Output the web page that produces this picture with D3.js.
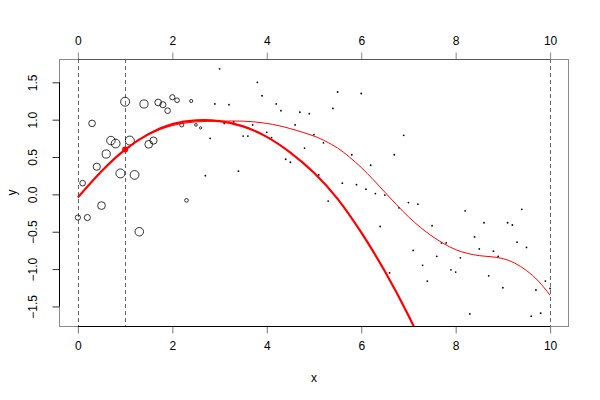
<!DOCTYPE html>
<html><head><meta charset="utf-8">
<script src="https://cdn.jsdelivr.net/npm/d3@7"></script>
<style>body{margin:0;background:#fff}svg{display:block;font-family:"Liberation Sans",Arial,sans-serif}</style>
</head><body><svg id="c" width="600" height="400"></svg>
<script>
const xVals = [0,0.1,0.2,0.3,0.4,0.5,0.6,0.7,0.8,0.9,1,1.1,1.2,1.3,1.4,1.5,1.6,1.7,1.8,1.9,2,2.1,2.2,2.3,2.4,2.5,2.6,2.7,2.8,2.9,3,3.1,3.2,3.3,3.4,3.5,3.6,3.7,3.8,3.9,4,4.1,4.2,4.3,4.4,4.5,4.6,4.7,4.8,4.9,5,5.1,5.2,5.3,5.4,5.5,5.6,5.7,5.8,5.9,6,6.1,6.2,6.3,6.4,6.5,6.6,6.7,6.8,6.9,7,7.1,7.2,7.3,7.4,7.5,7.6,7.7,7.8,7.9,8,8.1,8.2,8.3,8.4,8.5,8.6,8.7,8.8,8.9,9,9.1,9.2,9.3,9.4,9.5,9.6,9.7,9.8,9.9,10];
const yVals = [-0.31,0.15,-0.31,0.95,0.37,-0.15,0.54,0.72,0.68,0.28,1.24,0.72,0.26,-0.50,1.21,0.67,0.72,1.23,1.20,1.12,1.30,1.26,0.93,-0.08,1.25,0.93,0.89,0.25,0.75,1.21,1.68,0.95,1.20,0.97,0.31,0.78,0.78,0.93,1.50,1.32,0.83,0.76,1.21,1.12,0.47,0.43,0.93,1.10,0.62,1.08,0.80,0.26,0.69,-0.09,1.15,1.37,0.15,-0.23,0.53,0.13,1.35,0.07,0.39,0.01,-0.43,-0.01,-1.05,0.53,-0.18,0.79,-0.11,-0.75,-0.13,-0.95,-1.16,-0.42,-0.83,-0.65,-0.65,-1.01,-1.04,-0.85,-0.22,-1.60,-0.57,-0.73,-0.38,-1.09,-0.76,-0.83,-1.25,-0.38,-0.41,-0.64,-0.20,-0.71,-1.63,-1.28,-1.59,-1.16,-1.26];
const weights = [0.58,0.63,0.68,0.74,0.80,0.86,0.91,0.95,0.98,1.0,1.0,1.0,0.98,0.95,0.91,0.86,0.80,0.74,0.68,0.63,0.58,0.52,0.46,0.41,0.35,0.30,0.26,0.22,0.18,0.14];
// local quadratic fit centred at x = 1
const localX = [0,0.5,1,1.5,2,2.5,3,3.5,4,4.5,5,5.5,6,6.5,7,7.25];
const localY = [-0.04,0.31,0.60,0.81,0.94,0.99,0.98,0.91,0.77,0.56,0.29,-0.06,-0.51,-1.03,-1.62,-1.96];
const fitPoint = [1, 0.60];
// global smooth
const smoothX = [0,0.5,1,1.5,2,2.5,3,3.5,4,4.5,5,5.25,5.5,5.75,6,6.25,6.5,6.75,7,7.25,7.5,7.75,8,8.25,8.5,8.75,9,9.25,9.5,9.75,10];
const smoothY = [-0.05,0.31,0.59,0.80,0.92,0.97,0.98,0.98,0.95,0.88,0.78,0.71,0.62,0.50,0.36,0.20,0.03,-0.14,-0.30,-0.44,-0.56,-0.66,-0.74,-0.79,-0.82,-0.835,-0.86,-0.92,-1.02,-1.16,-1.35];
const vLines = [0, 1, 10];
const xTicks = [0,2,4,6,8,10];
const yTicks = [-1.5,-1,-0.5,0,0.5,1,1.5];

const svg = d3.select("#c");
const L=59,R=569,T=59,B=326;
const x = d3.scaleLinear().domain([-0.4,10.4]).range([L,R]);
const y = d3.scaleLinear().domain([-1.762,1.812]).range([B,T]);
const rs = d3.scaleLinear().domain([0,1]).range([0,4.5]);

svg.append("defs").append("clipPath").attr("id","clip").append("rect")
  .attr("x",L).attr("y",T).attr("width",R-L).attr("height",B-T);

// box
svg.append("rect").attr("x",L+0.5).attr("y",T+0.5).attr("width",R-L-1).attr("height",B-T)
  .attr("fill","none").attr("stroke","#8a8a8a");

// dashed vertical lines
svg.append("g").selectAll("line").data(vLines).join("line")
  .attr("x1",d=>Math.round(x(d))+0.5).attr("x2",d=>Math.round(x(d))+0.5)
  .attr("y1",T).attr("y2",B).attr("stroke","#666").attr("stroke-dasharray","4,3");

function styleAxis(g, tickCol){
  g.select(".domain").remove();
  g.selectAll(".tick line").attr("stroke",tickCol);
  g.selectAll(".tick text").attr("font-size",12).attr("fill","#000");
}
// bottom axis
const gb = svg.append("g").attr("transform",`translate(0,${B+0.5})`)
  .call(d3.axisBottom(x).tickValues(xTicks).tickSize(7).tickPadding(8).tickFormat(d3.format("d")));
styleAxis(gb,"#777");
gb.append("line").attr("x1",x(0)).attr("x2",x(10)).attr("stroke","#000");
// top axis
const gt = svg.append("g").attr("transform",`translate(0,${T+0.5})`)
  .call(d3.axisTop(x).tickValues(xTicks).tickSize(7).tickPadding(8).tickFormat(d3.format("d")));
styleAxis(gt,"#888");
gt.append("line").attr("x1",x(0)).attr("x2",x(10)).attr("stroke","#555").attr("stroke-width",1.2);
// left axis
const gl = svg.append("g").attr("transform",`translate(${L+0.5},0)`)
  .call(d3.axisLeft(y).tickValues(yTicks).tickSize(7).tickFormat(d3.format(".1f")));
gl.select(".domain").remove();
gl.selectAll(".tick line").attr("stroke","#333");
gl.selectAll(".tick text").attr("font-size",12).attr("fill","#000")
  .attr("text-anchor","middle").attr("x",0).attr("dy",0)
  .attr("transform","translate(-27,0) rotate(-90)").attr("dominant-baseline","central");
gl.append("line").attr("y1",y(-1.5)).attr("y2",y(1.5)).attr("stroke","#000");

// axis titles
svg.append("text").attr("x",(L+R)/2).attr("y",382).attr("text-anchor","middle").attr("font-size",12).text("x");
svg.append("text").attr("transform",`translate(12,${(T+B)/2}) rotate(-90)`).attr("text-anchor","middle")
  .attr("dominant-baseline","central").attr("font-size",12).text("y");

// points
const pts = xVals.map((xv,i)=>({x:xv,y:yVals[i],w:weights[i]||0}));
const gp = svg.append("g");
gp.selectAll("circle").data(pts).join("circle")
  .attr("cx",d=>x(d.x)).attr("cy",d=>y(d.y))
  .attr("r",d=>rs(d.w)<1.1?0.9:rs(d.w))
  .attr("fill",d=>rs(d.w)<1.1?"#000":"none")
  .attr("stroke",d=>rs(d.w)<1.1?"none":"#000").attr("stroke-width",0.8);

// curves
const line = d3.line().x(d=>x(d[0])).y(d=>y(d[1])).curve(d3.curveNatural);
const plotG = svg.append("g").attr("clip-path","url(#clip)");
plotG.append("path").datum(smoothX.map((v,i)=>[v,smoothY[i]])).attr("d",line)
  .attr("fill","none").attr("stroke","#ff0000").attr("stroke-width",1);
plotG.append("path").datum(localX.map((v,i)=>[v,localY[i]])).attr("d",line)
  .attr("fill","none").attr("stroke","#ff0000").attr("stroke-width",2.2);
plotG.append("circle").attr("cx",x(fitPoint[0])).attr("cy",y(fitPoint[1])).attr("r",3).attr("fill","#ff0000");
</script></body></html>
